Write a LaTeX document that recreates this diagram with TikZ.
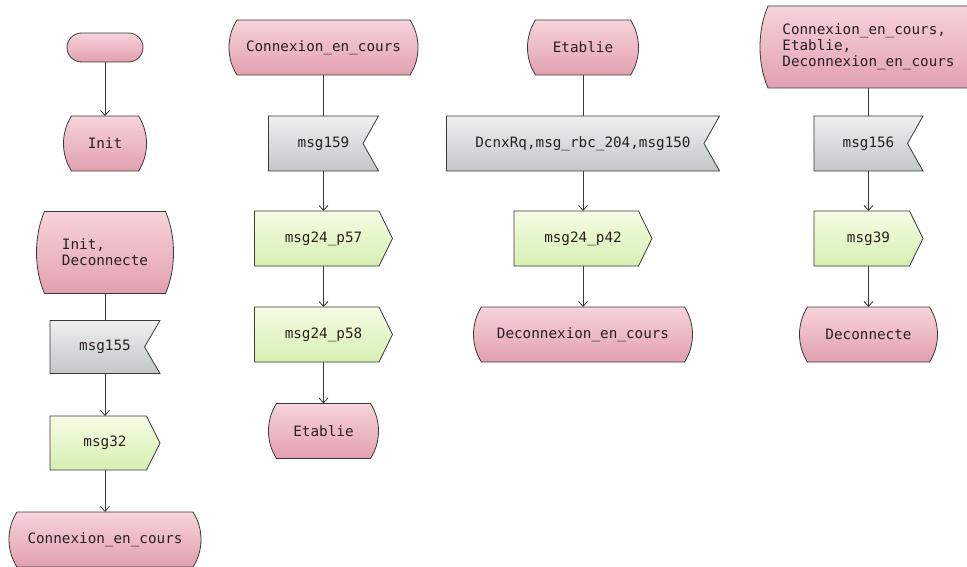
\documentclass[tikz,border=0pt]{standalone}
\usepackage{fontspec}
\newfontfamily\monofont{DejaVu Sans Mono}
\usetikzlibrary{arrows.meta}
\definecolor{linec}{HTML}{3A3A3A}
\definecolor{txtc}{HTML}{2A2020}
\definecolor{pinkT}{HTML}{F7D3DA}
\definecolor{pinkB}{HTML}{E2A0AF}
\definecolor{grayT}{HTML}{EEF0F0}
\definecolor{grayB}{HTML}{C3C7C7}
\definecolor{greenT}{HTML}{F5FDE6}
\definecolor{greenB}{HTML}{D6EFB0}
\tikzset{
  stfill/.style={draw=linec, line width=0.8pt, top color=pinkT, bottom color=pinkB},
  infill/.style={draw=linec, line width=0.8pt, top color=grayT, bottom color=grayB},
  outfill/.style={draw=linec, line width=0.8pt, top color=greenT, bottom color=greenB},
  txt/.style={inner sep=0pt, outer sep=0pt, text=txtc, align=left,
    font=\monofont\fontsize{14.3}{16}\selectfont},
  conn/.style={draw=linec, line width=0.8pt},
  arr/.style={conn, -{Straight Barb[length=5pt,width=9pt,line width=0.8pt]}}
}
% cx, cy, w, h
\newcommand\stshape[4]{%
  \path[stfill] (#1-#3/2+8,#2-#4/2) -- (#1+#3/2-8,#2-#4/2)
    .. controls (#1+#3/2+2.67,#2-#4/2+0.3*#4) and (#1+#3/2+2.67,#2+#4/2-0.3*#4) .. (#1+#3/2-8,#2+#4/2)
    -- (#1-#3/2+8,#2+#4/2)
    .. controls (#1-#3/2-2.67,#2+#4/2-0.3*#4) and (#1-#3/2-2.67,#2-#4/2+0.3*#4) .. cycle;}
% name, cx, cy, w, h, text
\newcommand\stnode[6]{%
  \stshape{#2}{#3}{#4}{#5}
  \node[txt, minimum width=#4pt, minimum height=#5pt] (#1) at (#2,#3) {#6};}
\newcommand\innode[6]{%
  \path[infill] (#2-#4/2,#3-#5/2) -- (#2+#4/2,#3-#5/2) -- (#2+#4/2-15.5,#3)
    -- (#2+#4/2,#3+#5/2) -- (#2-#4/2,#3+#5/2) -- cycle;
  \node[txt, minimum width=#4pt, minimum height=#5pt] (#1) at (#2,#3) {#6};}
\newcommand\outnode[6]{%
  \path[outfill] (#2-#4/2,#3-#5/2) -- (#2+#4/2-13.5,#3-#5/2) -- (#2+#4/2,#3)
    -- (#2+#4/2-13.5,#3+#5/2) -- (#2-#4/2,#3+#5/2) -- cycle;
  \node[txt, minimum width=#4pt, minimum height=#5pt] (#1) at (#2,#3) {#6};}
\begin{document}
\begin{tikzpicture}[x=1pt,y=-1pt]
\useasboundingbox (0,0) rectangle (967,567);
\fill[white] (0,0) rectangle (967,567);
\clip (0,0) rectangle (967,567);
% column 1
\path[stfill, rounded corners=14.5pt] (67,33) rectangle (143,62);
\node[txt, minimum width=76pt, minimum height=29pt] (start) at (105,47.5) {};
\stnode{init}{105}{143.5}{83}{55}{Init}
\stnode{initdec}{105}{252.5}{137}{82}{Init,\\Deconnecte}
\innode{in155}{105}{347}{110}{53}{msg155}
\outnode{out32}{105}{443}{110}{54}{msg32}
\stnode{conn1}{105}{539.5}{192}{55}{Connexion\_en\_cours}
% column 2
\stnode{conn2}{323.5}{47.5}{189}{55}{Connexion\_en\_cours}
\innode{in159}{323.5}{143.5}{110}{55}{msg159}
\outnode{p57}{323.5}{238.5}{138}{55}{msg24\_p57}
\outnode{p58}{323.5}{334.5}{138}{55}{msg24\_p58}
\stnode{etab2}{323.5}{431}{110}{55}{Etablie}
% column 3
\stnode{etab3}{583}{47.5}{111}{55}{Etablie}
\innode{dcnx}{583}{143.5}{273}{55}{DcnxRq,msg\_rbc\_204,msg150}
\outnode{p42}{583}{238.5}{138}{55}{msg24\_p42}
\stnode{decx3}{583}{334.5}{219}{55}{Deconnexion\_en\_cours}
% column 4
\stshape{880}{47}{240}{82}
\node[txt, minimum width=216pt, minimum height=82pt] (multi) at (868.5,47)
  {Connexion\_en\_cours,\\Etablie,\\Deconnexion\_en\_cours};
\innode{in156}{868.5}{143.5}{109}{55}{msg156}
\outnode{out39}{868.5}{238.5}{109}{55}{msg39}
\stnode{dec4}{868.5}{334.5}{138}{55}{Deconnecte}
% connectors
\draw[arr] (start.south) -- (init.north);
\draw[conn] (initdec.south) -- (in155.north);
\draw[arr] (in155.south) -- (out32.north);
\draw[arr] (out32.south) -- (conn1.north);
\draw[conn] (conn2.south) -- (in159.north);
\draw[arr] (in159.south) -- (p57.north);
\draw[arr] (p57.south) -- (p58.north);
\draw[arr] (p58.south) -- (etab2.north);
\draw[conn] (etab3.south) -- (dcnx.north);
\draw[arr] (dcnx.south) -- (p42.north);
\draw[arr] (p42.south) -- (decx3.north);
\draw[conn] (multi.south) -- (in156.north);
\draw[arr] (in156.south) -- (out39.north);
\draw[arr] (out39.south) -- (dec4.north);
\end{tikzpicture}
\end{document}
